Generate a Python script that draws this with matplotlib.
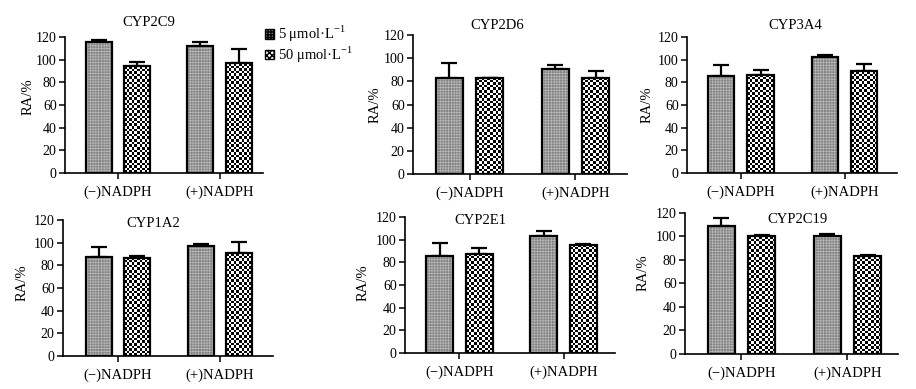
import matplotlib
matplotlib.use("Agg")
import matplotlib.pyplot as plt
from matplotlib.patches import Patch
import numpy as np

plt.rcParams['font.family'] = ['Liberation Serif', 'DejaVu Serif']
plt.rcParams['mathtext.fontset'] = 'custom'
plt.rcParams['mathtext.rm'] = 'Liberation Serif'

groups = ['(\u2212)NADPH', '(+)NADPH']
series = ['5 \u03bcmol\u00b7L$^{-1}$', '50 \u03bcmol\u00b7L$^{-1}$']
enzymes = ['CYP2C9', 'CYP2D6', 'CYP3A4', 'CYP1A2', 'CYP2E1', 'CYP2C19']

# RA/% for 5 and 50 umol/L, order: (-)NADPH, (+)NADPH
low_mean = [[116, 112], [82.6, 90.4], [86, 102.6], [87, 97], [86, 103], [108.5, 100]]
low_err = [[1.5, 3.5], [13, 3.6], [9.6, 1.8], [9, 1.5], [11.5, 4.5], [7, 2]]
high_mean = [[94, 97], [83, 83], [86.8, 89.7], [86.5, 90.5], [87.5, 95.5], [100, 83]]
high_err = [[4, 12], [0, 6], [3.8, 6.8], [2, 10], [5, 1], [1, 1.5]]

# layout (figure fractions)
rects = [[0.0710, 0.5553, 0.2162, 0.3496],
         [0.4509, 0.5527, 0.2336, 0.3573],
         [0.7500, 0.5553, 0.2293, 0.3496],
         [0.0688, 0.0848, 0.2293, 0.3496],
         [0.4421, 0.0925, 0.2293, 0.3496],
         [0.7478, 0.0900, 0.2325, 0.3625]]
title_xy = [(0.424, 1.11), (0.393, 1.072), (0.514, 1.088),
            (0.43, 0.978), (0.357, 0.978), (0.53, 0.957)]
ylab_xy = [(28, 97), (375, 105), (647, 105), (22, 283), (363, 283), (643, 273)]
xlims = [(-0.522, 1.429), (-0.533, 1.486), (-0.52, 1.507),
         (-0.54, 1.52), (-0.524, 1.495), (-0.533, 1.476)]

W, H = 916, 389
fig = plt.figure(figsize=(W / 100, H / 100), dpi=100)

width = 0.255
off = 0.19
cell = 2.6  # checker cell size in pixels
x = np.arange(len(groups))


def checker_fill(ax, bars, rect, xlim):
    ux = (xlim[1] - xlim[0]) / (rect[2] * W)
    uy = 120 / (rect[3] * H)
    for p in bars.patches:
        bx, bw, bh = p.get_x(), p.get_width(), p.get_height()
        nc = max(1, int(round(bw / (cell * ux))))
        nr = max(1, int(round(bh / (cell * uy))))
        arr = (np.add.outer(np.arange(nr), np.arange(nc)) % 2).astype(float)
        ax.imshow(arr, extent=(bx, bx + bw, 0, bh), cmap='gray', vmin=0, vmax=1,
                  interpolation='nearest', aspect='auto', origin='lower',
                  zorder=2, clip_path=p)


for i, name in enumerate(enzymes):
    ax = fig.add_axes(rects[i])
    pos_lo = x - off
    pos_hi = x + off
    with plt.rc_context({'hatch.linewidth': 0.5}):
        ax.bar(pos_lo, low_mean[i], width, facecolor='#828282', hatch='++++++',
               edgecolor='#b8b8b8', linewidth=0, zorder=2)
    hi = ax.bar(pos_hi, high_mean[i], width, facecolor='white', linewidth=0, zorder=1.5)
    checker_fill(ax, hi, rects[i], xlims[i])
    for pos, m, e in [(pos_lo, low_mean[i], low_err[i]), (pos_hi, high_mean[i], high_err[i])]:
        ax.bar(pos, m, width, facecolor='none', edgecolor='black',
               linewidth=1.6, zorder=3)
        ax.errorbar(pos, m, yerr=[np.zeros(len(e)), e], fmt='none',
                    ecolor='black', elinewidth=1.6, capsize=6, capthick=1.6,
                    zorder=1, clip_on=False)
    ax.set_ylim(0, 120)
    ax.set_xlim(*xlims[i])
    ax.set_yticks(range(0, 121, 20))
    ax.set_xticks(x)
    ax.set_xticklabels(groups, fontsize=10.5)
    ax.tick_params(axis='y', labelsize=10, length=4, width=1.1, pad=2)
    ax.tick_params(axis='x', length=4, width=1.1, pad=5)
    for s in ['top', 'right']:
        ax.spines[s].set_visible(False)
    for s in ['left', 'bottom']:
        ax.spines[s].set_linewidth(1.2)
    ax.text(title_xy[i][0], title_xy[i][1], name, transform=ax.transAxes,
            ha='center', va='center', fontsize=10.5)
    fig.text(ylab_xy[i][0] / W, 1 - ylab_xy[i][1] / H, 'RA/%', rotation=90,
             ha='center', va='center', fontsize=10.5)

with plt.rc_context({'hatch.linewidth': 1.2}):
    h_hi = Patch(facecolor='white', hatch='xxxxxx', edgecolor='black', linewidth=1.0)
with plt.rc_context({'hatch.linewidth': 0.6}):
    h_lo = Patch(facecolor='#828282', hatch='++++++', edgecolor='black', linewidth=1.0)
fig.legend([h_lo, h_hi], series, loc='upper left', bbox_to_anchor=(265 / W, 1 - 24 / H),
           frameon=False, fontsize=10.5, handlelength=0.65, handleheight=0.65,
           handletextpad=0.25, labelspacing=0.0, borderpad=0, borderaxespad=0)

fig.savefig('out.png', dpi=100)
